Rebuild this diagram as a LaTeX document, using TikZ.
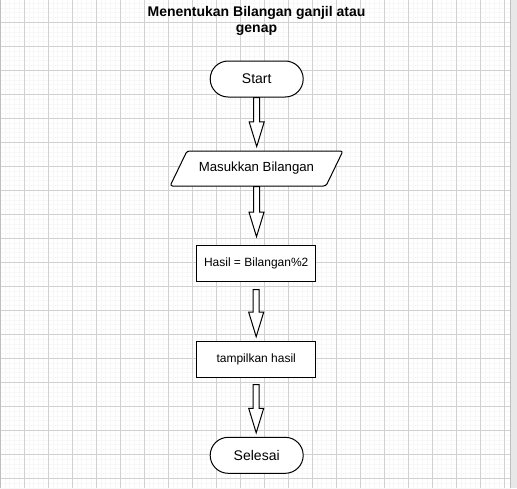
\documentclass[tikz,border=0pt]{standalone}
\usepackage{fontspec}
\setmainfont{Liberation Sans}
\usetikzlibrary{calc,shapes.geometric}

\tikzset{
    minorline/.style={draw=black!3, line width=0.6pt},
    majorline/.style={draw=black!18, line width=0.8pt},
    terminal/.style={draw, line width=1pt, fill=white, rounded corners=18pt,
        minimum width=93pt, minimum height=36pt, inner sep=0pt,
        font=\fontsize{14}{16}\selectfont},
    inout/.style={draw, line width=1pt, fill=white, trapezium,
        trapezium left angle=41.2, trapezium right angle=138.8,
        trapezium stretches=true, rounded corners=2.5pt,
        minimum width=173pt, minimum height=35pt, inner sep=0pt,
        font=\fontsize{13.2}{15}\selectfont},
    process/.style={draw, line width=1pt, fill=white,
        minimum width=119pt, minimum height=36pt, inner sep=0pt,
        font=\fontsize{12}{14}\selectfont},
    blockarrow/.style={draw, line width=1pt, fill=white, line join=miter,
        to path={let \p1=(\tikztostart), \p2=(\tikztotarget) in
            (\x1-3pt,\y1) -- (\x1-3pt,\y2+24.5pt) -- (\x1-7.5pt,\y2+24.5pt)
            -- (\x1,\y2) -- (\x1+7.5pt,\y2+24.5pt) -- (\x1+3pt,\y2+24.5pt)
            -- (\x1+3pt,\y1) -- cycle}}
}

\begin{document}
\begin{tikzpicture}[x=1pt,y=-1pt]
    \useasboundingbox (0,0) rectangle (517,488);
    \fill[white] (0,0) rectangle (517,488);

    \foreach \x in {4.8,9.6,...,508}
        \draw[minorline] (\x,0) -- (\x,488);
    \foreach \y in {3.1,7.9,...,488}
        \draw[minorline] (0,\y) -- (510.5,\y);
    \foreach \x in {24,48,...,504}
        \draw[majorline] (\x,0) -- (\x,488);
    \foreach \y in {22.3,46.3,...,480}
        \draw[majorline] (0,\y) -- (510.5,\y);
    \draw[draw=black!25, line width=1pt] (0.5,0) -- (0.5,488);
    \fill[black!9] (511,0) rectangle (517,488);
    \draw[draw=black!25, line width=0.8pt] (510.8,0) -- (510.8,488);

    \node[align=center, font=\bfseries\fontsize{14}{16}\selectfont] (Title) at (256.5,21)
        {Menentukan Bilangan ganjil atau\\genap};

    \node[terminal] (Start) at (256.7,79) {Start};
    \node[inout] (Input) at (256.5,168.5) {Masukkan Bilangan};
    \node[process] (Hasil) at (256.2,263.2) {Hasil = Bilangan\%2};
    \node[process] (Tampil) at (256.2,359.2) {tampilkan hasil};
    \node[terminal] (Selesai) at (256.7,455.3) {Selesai};

    \draw[blockarrow] (Start.south) to ([yshift=4pt]Input.north);
    \draw[blockarrow] (Input.south) to ([yshift=8pt]Hasil.north);
    \draw[blockarrow] ([yshift=-8pt]Hasil.south) to ([yshift=4pt]Tampil.north);
    \draw[blockarrow] ([yshift=-7pt]Tampil.south) to ([yshift=4pt]Selesai.north);
\end{tikzpicture}
\end{document}
